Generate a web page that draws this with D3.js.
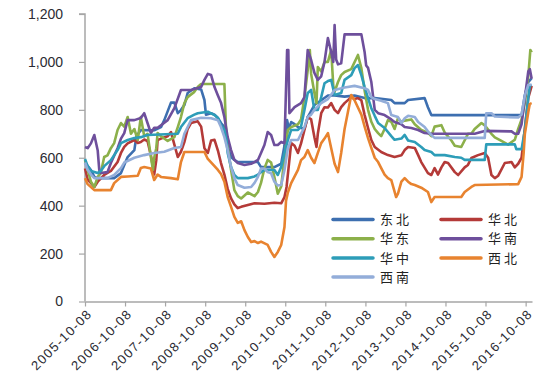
<!DOCTYPE html>
<html><head><meta charset="utf-8">
<script src="https://cdn.jsdelivr.net/npm/d3@7/dist/d3.min.js"></script>
<style>body{margin:0;background:#fff}svg{display:block}</style>
</head><body><svg id="c" width="548" height="386"></svg>
<script>
const seriesNames = ["东北","华北","华东","华南","华中","西北","西南"];
const seriesColors = ["#3d6fb0","#b43a38","#8cb04a","#6e4f9c","#2d9db8","#e8832f","#93add9"];
const xTickLabels = ["2005-10-08","2006-10-08","2007-10-08","2008-10-08","2009-10-08","2010-10-08","2011-10-08","2012-10-08","2013-10-08","2014-10-08","2015-10-08","2016-10-08"];
const yTicks = [0,200,400,600,800,1000,1200];

const dongbei = [["2005-10-08",580],["2005-12",549],["2006-01",520],["2006-02",515],["2006-07",515],["2006-09",536],["2006-10",570],["2006-11",603],["2007-01",632],["2007-01-20",690],["2007-03",716],["2007-07",715],["2007-09",728],["2007-10",757],["2007-12",830],["2008-01",830],["2008-02",786],["2008-03",799],["2008-04",820],["2008-05",870],["2008-07",890],["2008-09",885],["2008-10",841],["2008-10-15",780],["2008-12",786],["2009-01",780],["2009-02",766],["2009-03",745],["2009-04",728],["2009-04-20",674],["2009-05",645],["2009-06",603],["2009-07",591],["2009-08",582],["2010-02",582],["2010-03",561],["2010-07",561],["2010-09",575],["2010-10",650],["2010-10-25",757],["2010-11-10",720],["2010-12",749],["2011-01",740],["2011-02",728],["2011-04",720],["2011-05",770],["2011-07",820],["2011-11",860],["2012-01",860],["2012-04",855],["2012-07",860],["2012-10",849],["2013-01",849],["2013-06",841],["2013-07",828],["2013-10",828],["2013-11",841],["2014-04",849],["2014-05",811],["2014-06",778],["2016-09",778],["2016-10",862],["2016-11",916],["2016-12-02",932]];

const huabei = [["2005-10-08",555],["2005-11",510],["2006-01",478],["2006-02",500],["2006-04",528],["2006-06",545],["2006-08",582],["2006-09",620],["2006-10",645],["2006-11",660],["2007-01",674],["2007-02",662],["2007-03",666],["2007-04",676],["2007-05",670],["2007-06",610],["2007-07",530],["2007-07-20",590],["2007-08",674],["2007-09",680],["2007-11",690],["2007-12",707],["2008-01",655],["2008-02",603],["2008-03",625],["2008-04",665],["2008-05",720],["2008-06",745],["2008-08",752],["2008-09",730],["2008-10",640],["2008-11",620],["2008-12",672],["2009-01",675],["2009-02",630],["2009-03",578],["2009-04",530],["2009-05",470],["2009-06",430],["2009-07",405],["2009-08",390],["2009-09",395],["2009-11",403],["2010-01",410],["2010-04",408],["2010-07",412],["2010-09",410],["2010-10",436],["2010-10-20",478],["2010-12",661],["2011-01",650],["2011-02",620],["2011-03",660],["2011-04",716],["2011-05",770],["2011-06",760],["2011-07",686],["2011-07-20",645],["2011-08",700],["2011-09",786],["2011-10",811],["2011-11",810],["2011-12",828],["2012-01",800],["2012-02",786],["2012-03",811],["2012-04",828],["2012-06",853],["2012-07",845],["2012-08",849],["2012-09",840],["2012-10",778],["2012-11",724],["2012-12",674],["2013-01",645],["2013-03",624],["2013-05",611],["2013-07",603],["2013-09",610],["2013-10",632],["2013-11",645],["2014-01",641],["2014-02",611],["2014-03",582],["2014-05",536],["2014-06",528],["2014-07",557],["2014-08",530],["2014-09",560],["2014-10",582],["2014-11",578],["2015-01",540],["2015-02",528],["2015-04",560],["2015-05",570],["2015-06",599],["2015-08",611],["2015-10",620],["2015-11",600],["2015-12",528],["2016-01",515],["2016-02",525],["2016-04",578],["2016-06",582],["2016-07",560],["2016-08",575],["2016-09",600],["2016-10",724],["2016-11",850],["2016-12-02",900]];

const huadong = [["2005-10-08",590],["2005-11",550],["2005-12",500],["2006-01",478],["2006-02",520],["2006-03",536],["2006-04",603],["2006-05",610],["2006-06",640],["2006-07",661],["2006-08",716],["2006-09",745],["2006-10",730],["2006-11",770],["2006-12",700],["2007-01",720],["2007-02",674],["2007-03",770],["2007-04",690],["2007-05",700],["2007-06",603],["2007-06-20",549],["2007-07",600],["2007-07-20",640],["2007-08",703],["2007-09",690],["2007-11",670],["2008-01",686],["2008-02",728],["2008-03",770],["2008-04",828],["2008-05",853],["2008-07",875],["2008-08",895],["2008-09",908],["2009-04",908],["2009-04-15",728],["2009-05",645],["2009-06",549],["2009-07",465],["2009-08",440],["2009-09",430],["2009-11",455],["2010-01",440],["2010-02",457],["2010-03",495],["2010-04",555],["2010-05",591],["2010-06",580],["2010-07",520],["2010-08",450],["2010-09",480],["2010-10",600],["2010-11",716],["2010-12",728],["2011-02",740],["2011-03",760],["2011-04",853],["2011-05",966],["2011-05-20",1050],["2011-06",950],["2011-07",870],["2011-07-20",828],["2011-08",979],["2011-09",960],["2011-10",1000],["2011-11",1000],["2011-12",1050],["2011-12-20",900],["2012-01",875],["2012-02",916],["2012-03",945],["2012-04",958],["2012-06",970],["2012-08",1029],["2012-09",974],["2012-10",880],["2012-11",800],["2012-12",750],["2013-01",720],["2013-02",703],["2013-03",690],["2013-04",720],["2013-05",757],["2013-06",750],["2013-07",720],["2013-08",765],["2013-09",750],["2013-10",755],["2013-12",760],["2014-01",740],["2014-03",716],["2014-05",705],["2014-06",690],["2014-07",730],["2014-09",736],["2014-10",705],["2014-12",672],["2015-01",650],["2015-03",645],["2015-05",700],["2015-06",700],["2015-07",720],["2015-09",745],["2015-10",735],["2015-12",700],["2016-01",685],["2016-03",670],["2016-05",655],["2016-07",675],["2016-08",720],["2016-09",760],["2016-10",830],["2016-11",940],["2016-11-20",1050],["2016-12-02",1040]];

const huanan = [["2005-10-08",645],["2005-11",640],["2005-12",660],["2006-01",695],["2006-02",630],["2006-02-15",549],["2006-03",536],["2006-05",540],["2006-06",578],["2006-08",640],["2006-09",680],["2006-10",703],["2006-11",757],["2007-01",757],["2007-03",766],["2007-04",786],["2007-05",745],["2007-06",703],["2007-07",725],["2007-08",725],["2007-09",736],["2007-11",757],["2008-01",807],["2008-03",883],["2008-06",883],["2008-09",895],["2008-10",925],["2008-11",950],["2008-12",945],["2009-01",895],["2009-02",860],["2009-03",830],["2009-04",770],["2009-04-20",716],["2009-05",686],["2009-06",632],["2009-07",591],["2009-08",578],["2009-10",570],["2009-12",575],["2010-01",582],["2010-02",591],["2010-03",620],["2010-04",653],["2010-05",707],["2010-06",695],["2010-07",653],["2010-08",653],["2010-09",666],["2010-10",660],["2010-10-25",1050],["2010-11-05",1050],["2010-11-15",786],["2011-01",811],["2011-03",828],["2011-04",853],["2011-05",1050],["2011-06",1008],["2011-07",954],["2011-08",925],["2011-09",940],["2011-10",1000],["2011-11",1100],["2011-12",1040],["2011-12-20",1000],["2012-01",1154],["2012-01-15",1010],["2012-02",990],["2012-03",994],["2012-04",1115],["2012-09",1115],["2012-10",1040],["2012-10-15",985],["2012-11",975],["2012-12",916],["2013-01",800],["2013-02",786],["2013-04",778],["2013-06",760],["2013-07",749],["2013-09",740],["2013-10",728],["2013-12",724],["2014-02",716],["2014-04",703],["2014-06",700],["2015-07",700],["2015-10",712],["2016-06",710],["2016-07",700],["2016-08",700],["2016-09",740],["2016-10",850],["2016-11",960],["2016-11-15",970],["2016-12-02",930]];

const huazhong = [["2005-10-08",595],["2005-11",565],["2005-12",545],["2006-02",536],["2006-03",545],["2006-04",565],["2006-06",590],["2006-08",632],["2006-09",661],["2006-11",674],["2007-01",682],["2007-03",686],["2007-05",695],["2008-02",700],["2008-03",728],["2008-05",765],["2008-07",780],["2008-08",786],["2008-11",792],["2008-12",785],["2009-01",778],["2009-02",766],["2009-03",736],["2009-04",716],["2009-04-20",674],["2009-05",620],["2009-06",561],["2009-07",528],["2009-08",515],["2009-11",515],["2010-01",522],["2010-02",530],["2010-03",540],["2010-04",549],["2010-07",549],["2010-08",528],["2010-09",561],["2010-10",620],["2010-11",674],["2010-12",716],["2011-02",716],["2011-03",730],["2011-04",799],["2011-05",870],["2011-06",883],["2011-07",799],["2011-08",800],["2011-09",853],["2011-10",911],["2011-11",920],["2011-12",925],["2012-01",862],["2012-03",870],["2012-04",925],["2012-06",945],["2012-07",974],["2012-08",987],["2012-09",945],["2012-10",895],["2012-11",849],["2012-12",807],["2013-01",775],["2013-02",745],["2013-04",724],["2013-06",690],["2013-07",675],["2013-09",680],["2013-10",695],["2013-11",672],["2014-01",666],["2014-03",645],["2014-04",632],["2014-06",624],["2014-07",611],["2014-10",611],["2015-01",603],["2015-03",600],["2015-04",591],["2015-10",591],["2015-10-15",656],["2016-07",656],["2016-07-15",636],["2016-09",636],["2016-10",716],["2016-11",850],["2016-11-15",900],["2016-12-02",904]];

const xibei = [["2005-10-08",515],["2005-11",490],["2006-01",465],["2006-06",465],["2006-07",494],["2006-09",520],["2006-11",522],["2007-02",525],["2007-03",557],["2007-04",561],["2007-06",555],["2007-07",507],["2007-08",530],["2007-09",520],["2007-12",515],["2008-02",510],["2008-03",582],["2008-04",624],["2008-10",624],["2008-11",595],["2009-01",565],["2009-02",549],["2009-03",532],["2009-04",500],["2009-05",436],["2009-06",395],["2009-07",353],["2009-08",328],["2009-09",335],["2009-10",298],["2009-11",269],["2009-12",248],["2010-01",252],["2010-02",244],["2010-03",250],["2010-05",236],["2010-06",207],["2010-07",186],["2010-08",207],["2010-09",236],["2010-10",311],["2010-10-15",420],["2010-11",455],["2010-12",494],["2011-02",549],["2011-03",590],["2011-04",603],["2011-05",632],["2011-06",600],["2011-07",578],["2011-08",620],["2011-09",661],["2011-10",680],["2011-11",703],["2011-12",640],["2012-01",575],["2012-02",540],["2012-03",620],["2012-04",720],["2012-05",790],["2012-06",862],["2012-07",840],["2012-08",810],["2012-09",780],["2012-10",730],["2012-11",682],["2012-12",641],["2013-01",600],["2013-02",582],["2013-03",557],["2013-04",530],["2013-05",515],["2013-06",507],["2013-07-15",436],["2013-08",450],["2013-09",500],["2013-10",515],["2013-11",500],["2013-12",490],["2014-01",486],["2014-03",475],["2014-05",457],["2014-06",415],["2014-07",436],["2015-03",436],["2015-04",457],["2015-06",478],["2015-07",486],["2016-08",490],["2016-09",520],["2016-09-20",620],["2016-10",700],["2016-11",790],["2016-11-15",825],["2016-12-02",828]];

const xinan = [["2005-10-08",580],["2005-11",550],["2005-12",530],["2006-01",515],["2006-05",515],["2006-07",528],["2006-09",557],["2006-10",580],["2007-01",600],["2007-04",611],["2007-07",620],["2007-10",625],["2008-01",641],["2008-03",645],["2008-04",700],["2008-05",728],["2008-06",757],["2008-09",767],["2008-12",765],["2009-02",757],["2009-03",728],["2009-04",686],["2009-05",632],["2009-06",561],["2009-07",515],["2009-08",486],["2009-10",475],["2009-12",478],["2010-01",495],["2010-02",520],["2010-03",555],["2010-04",555],["2010-05",540],["2010-06",535],["2010-07",500],["2010-08",484],["2010-09",486],["2010-10",549],["2010-11",640],["2010-12",674],["2011-02",674],["2011-03",700],["2011-04",728],["2011-05",770],["2011-06",780],["2011-07",800],["2011-09",828],["2011-11",845],["2012-01",883],["2012-04",893],["2012-07",900],["2012-10",890],["2012-11",883],["2012-12",853],["2013-01",845],["2013-03",838],["2013-05",828],["2013-06",778],["2013-08",770],["2013-09",745],["2013-10",765],["2013-11",775],["2014-01",770],["2014-02",749],["2014-04",728],["2014-05",710],["2014-06",695],["2014-07",683],["2015-10",683],["2015-10-15",786],["2015-12",786],["2016-01",772],["2016-08",768],["2016-09",780],["2016-10",860],["2016-11",904],["2016-12-02",905]];

const seriesData = [dongbei, huabei, huadong, huanan, huazhong, xibei, xinan];

const pMonth = d3.timeParse("%Y-%m"), pDay = d3.timeParse("%Y-%m-%d");
const parseDate = s => s.length === 7 ? pMonth(s) : pDay(s);

const svg = d3.select("#c");
const mLeft = 85, mRight = 532, mTop = 14, mBottom = 301.5;
const x = d3.scaleTime().domain([pDay("2005-10-08"), pDay("2016-12-05")]).range([mLeft, mRight]);
const y = d3.scaleLinear().domain([0, 1200]).range([mBottom, mTop]);

// y axis
const yAxis = d3.axisLeft(y).tickValues(yTicks).tickFormat(d3.format(",")).tickSize(6).tickPadding(16);
const gy = svg.append("g").attr("transform", `translate(${mLeft},0)`).call(yAxis);
gy.select(".domain").attr("stroke", "#a6a6a6").attr("stroke-width", 1.5).attr("d", `M-6,${mTop}H0V${mBottom}`);
gy.selectAll(".tick line").attr("stroke", "#a6a6a6").attr("stroke-width", 1.2);
gy.selectAll(".tick text").attr("font-family", "Liberation Sans, Arial, sans-serif").attr("font-size", 14).attr("fill", "#2b2b33");

// x axis
const xAxis = d3.axisBottom(x).tickValues(xTickLabels.map(pDay)).tickFormat(d3.timeFormat("%Y-%m-%d")).tickSize(5).tickSizeOuter(0);
const gx = svg.append("g").attr("transform", `translate(0,${mBottom})`).call(xAxis);
gx.select(".domain").attr("stroke", "#a6a6a6").attr("stroke-width", 1.5);
gx.selectAll(".tick line").attr("stroke", "#a6a6a6").attr("stroke-width", 1.2);
gx.selectAll(".tick text")
  .attr("font-family", "Liberation Sans, Arial, sans-serif").attr("font-size", 13).attr("fill", "#2b2b33")
  .attr("letter-spacing", 1.3)
  .attr("text-anchor", "end").attr("transform", "translate(4,10) rotate(-45)").attr("dy", "0.35em").attr("y", 0).attr("x", 0);

// lines
const line = d3.line().x(d => x(parseDate(d[0]))).y(d => y(d[1]));
const gl = svg.append("g");
seriesData.forEach((s, i) => {
  gl.append("path").attr("d", line(s)).attr("fill", "none")
    .attr("stroke", seriesColors[i]).attr("stroke-width", 2.6).attr("stroke-linejoin", "round");
});

// legend
const lg = svg.append("g");
seriesNames.forEach((n, i) => {
  const col = i % 2, row = Math.floor(i / 2);
  const lx = col === 0 ? 333 : 441, ly = 219.5 + row * 19.2;
  lg.append("line").attr("x1", lx).attr("x2", lx + 40).attr("y1", ly).attr("y2", ly)
    .attr("stroke", seriesColors[i]).attr("stroke-width", 3.5).attr("stroke-linecap", "round");
  lg.append("text").attr("x", lx + 47).attr("y", ly).attr("dy", "0.36em")
    .attr("font-family", "Noto Sans CJK SC, sans-serif").attr("font-size", 13).attr("letter-spacing", 3)
    .attr("fill", "#222").text(n);
});
</script></body></html>
